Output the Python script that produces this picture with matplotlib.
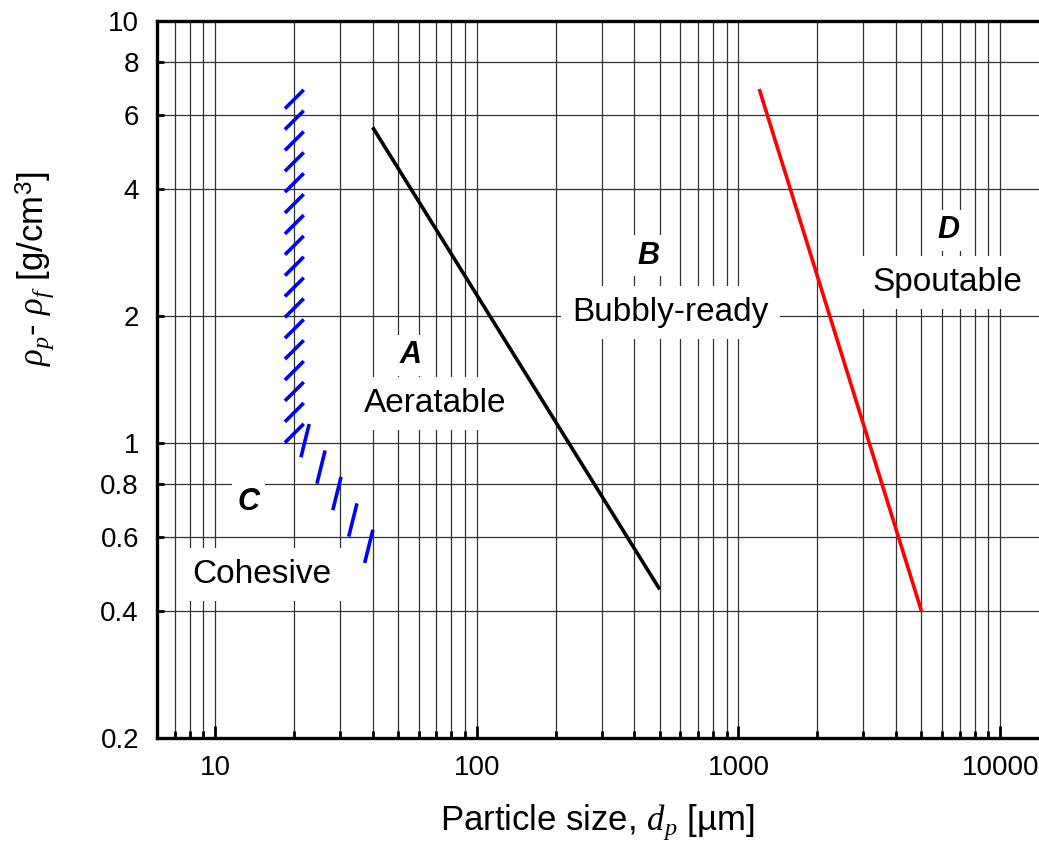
import matplotlib
matplotlib.use("Agg")
import matplotlib.pyplot as plt
import matplotlib.patheffects as pe
from matplotlib.ticker import FixedLocator, LogLocator, NullFormatter

# ---------------------------------------------------------------------------
# Geldart-type diagram: boundaries between the powder groups
# ---------------------------------------------------------------------------
plt.rcParams["font.family"] = ["Liberation Sans", "DejaVu Sans"]
plt.rcParams["mathtext.fontset"] = "custom"
plt.rcParams["mathtext.rm"] = "Liberation Sans"
plt.rcParams["mathtext.it"] = "Liberation Serif:italic"

# C / A boundary (hatched), split into the sloped and the vertical part
ca_slope_d = [40, 20]
ca_slope_rho = [0.49, 1.0]
ca_vert_d = [20, 20]
ca_vert_rho = [1.0, 6.9]

# A / B boundary
ab_d = [40, 500]
ab_rho = [5.6, 0.45]

# B / D boundary
bd_d = [1200, 5000]
bd_rho = [6.9, 0.4]

# group letters and names: (text, d, rho)
letters = [("A", 55.7, 1.615), ("B", 453, 2.78), ("C", 13.4, 0.726), ("D", 6350, 3.19)]
names = [("Aeratable", 69.3, 1.243), ("Bubbly-ready", 550, 2.04),
         ("Cohesive", 15.1, 0.488), ("Spoutable", 6300, 2.40)]

y_ticks = [0.2, 0.4, 0.6, 0.8, 1, 2, 4, 6, 8, 10]
y_labels = ["0.2", "0.4", "0.6", "0.8", "1", "2", "4", "6", "8", "10"]
x_ticks = [10, 100, 1000, 10000]
x_labels = ["10", "100", "1000", "10000"]


def main():
    fig = plt.figure(figsize=(10.39, 8.43), dpi=100)
    # right edge of the axes lies past the figure edge, as in the cropped original
    ax = fig.add_axes([157 / 1039, 105 / 843, 922 / 1039, 717 / 843])
    ax.set_xscale("log")
    ax.set_yscale("log")
    ax.set_xlim(6, 20000)
    ax.set_ylim(0.2, 10)

    # ---- ticks ----
    ax.xaxis.set_major_locator(FixedLocator(x_ticks))
    ax.xaxis.set_minor_locator(LogLocator(base=10, subs=range(2, 10)))
    ax.xaxis.set_minor_formatter(NullFormatter())
    ax.set_xticklabels(x_labels)
    ax.yaxis.set_major_locator(FixedLocator(y_ticks))
    ax.yaxis.set_minor_locator(FixedLocator([]))
    ax.set_yticklabels(y_labels)
    ax.tick_params(which="major", direction="in", length=9, width=2, labelsize=20, pad=12)
    ax.tick_params(which="minor", direction="in", length=5, width=2)
    ax.tick_params(axis="y", which="major", length=5, pad=13)

    # ---- grid ----
    ax.grid(True, which="major", color="0.2", lw=0.9)
    ax.grid(True, which="minor", axis="x", color="0.2", lw=0.9)
    ax.set_axisbelow(True)

    for side in ["left", "bottom", "top"]:
        ax.spines[side].set_linewidth(2.4)
    ax.spines["right"].set_visible(False)

    # ---- boundaries ----
    ax.plot(ca_vert_d, ca_vert_rho, color="none", lw=0,
            path_effects=[pe.withTickedStroke(offset=(-5.5, -6), spacing=14.4, angle=-45,
                                              length=1.15, linewidth=2.6, foreground="#0000ff")])
    ax.plot(ca_slope_d, ca_slope_rho, color="none", lw=0,
            path_effects=[pe.withTickedStroke(spacing=21, angle=-45, length=1.05,
                                              linewidth=2.6, foreground="#0000ff")])
    ax.plot(ab_d, ab_rho, color="black", lw=2.6, solid_capstyle="butt")
    ax.plot(bd_d, bd_rho, color="#ff0000", lw=2.6, solid_capstyle="butt")

    # ---- region labels ----
    for txt, d, rho in letters:
        ax.text(d, rho, txt, fontsize=22, fontweight="bold", fontstyle="italic",
                ha="center", va="center",
                bbox=dict(facecolor="white", edgecolor="none", pad=4))
    for txt, d, rho in names:
        ax.text(d, rho, txt, fontsize=24, ha="center", va="center",
                bbox=dict(facecolor="white", edgecolor="none", pad=8))

    ax.set_xlabel("Particle size, $d_p$ [µm]", fontsize=25)
    ax.xaxis.set_label_coords(0.477, -0.09)
    ax.set_ylabel(r"$\rho_p$- $\rho_f$ [g/cm$^3$]", fontsize=25)
    ax.yaxis.set_label_coords(-0.11, 0.655)

    fig.savefig("out.png", dpi=100)


if __name__ == "__main__":
    main()
